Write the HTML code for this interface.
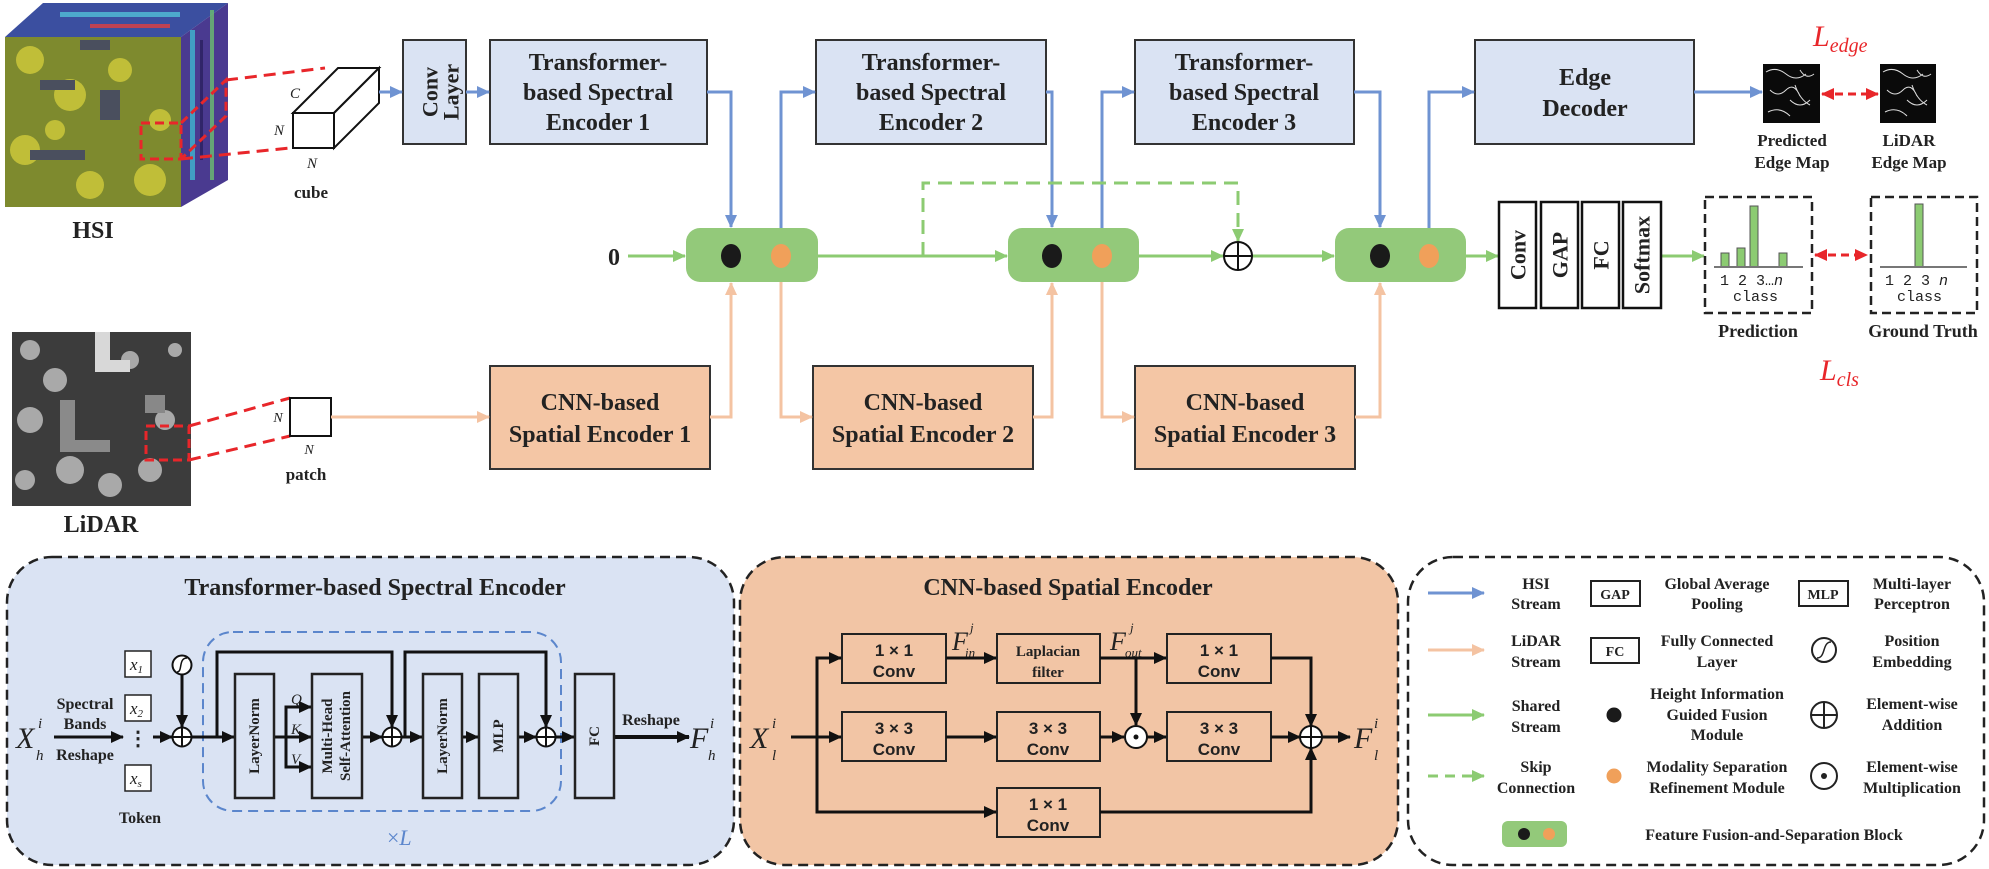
<!DOCTYPE html>
<html><head><meta charset="utf-8"><style>
html,body{margin:0;padding:0;background:#fff;}
svg{display:block;}
text{font-family:"Liberation Serif",serif;font-weight:bold;fill:#222;}
.i{font-style:italic;font-weight:normal;}
.s{font-family:"Liberation Sans",sans-serif;}
</style></head><body>
<svg width="1989" height="869" viewBox="0 0 1989 869" xmlns="http://www.w3.org/2000/svg">
<defs>
<marker id="mb" markerUnits="userSpaceOnUse" markerWidth="14" markerHeight="14" refX="12" refY="7" orient="auto"><path d="M0,1 L13,7 L0,13 z" fill="#6f93d2"/></marker>
<marker id="mp" markerUnits="userSpaceOnUse" markerWidth="14" markerHeight="14" refX="12" refY="7" orient="auto"><path d="M0,1 L13,7 L0,13 z" fill="#f4c3a2"/></marker>
<marker id="mg" markerUnits="userSpaceOnUse" markerWidth="14" markerHeight="14" refX="12" refY="7" orient="auto"><path d="M0,1 L13,7 L0,13 z" fill="#8ccb72"/></marker>
<marker id="mk" markerUnits="userSpaceOnUse" markerWidth="14" markerHeight="14" refX="12" refY="7" orient="auto"><path d="M0,1 L13,7 L0,13 z" fill="#111"/></marker>
<marker id="mr" markerUnits="userSpaceOnUse" markerWidth="14" markerHeight="14" refX="12" refY="7" orient="auto"><path d="M0,1 L13,7 L0,13 z" fill="#e8262a"/></marker>
<marker id="mrs" markerUnits="userSpaceOnUse" markerWidth="14" markerHeight="14" refX="12" refY="7" orient="auto-start-reverse"><path d="M0,1 L13,7 L0,13 z" fill="#e8262a"/></marker>
</defs>

<!-- HSI cube -->
<polygon points="5,37 43,3 228,3 181,37" fill="#3b4fa0"/>
<polygon points="181,37 228,3 228,180 181,207" fill="#4a3a90"/>
<g opacity="0.8">
<rect x="60" y="12" width="120" height="5" fill="#52c0d8"/><rect x="90" y="24" width="80" height="4" fill="#e04040"/>
<rect x="190" y="30" width="5" height="150" fill="#40b8d0"/><rect x="210" y="10" width="4" height="170" fill="#6cc070"/><rect x="200" y="40" width="3" height="120" fill="#2a2060"/>
</g>
<rect x="5" y="37" width="176" height="170" fill="#7e8a2e"/>
<g fill="#c8c43a" opacity="0.9">
<circle cx="30" cy="60" r="14"/><circle cx="70" cy="95" r="16"/><circle cx="25" cy="150" r="15"/><circle cx="120" cy="70" r="12"/><circle cx="150" cy="180" r="16"/><circle cx="90" cy="185" r="14"/><circle cx="160" cy="120" r="11"/><circle cx="55" cy="130" r="10"/>
</g>
<g fill="#4a4f5e"><rect x="40" y="80" width="35" height="10"/><rect x="30" y="150" width="55" height="10"/><rect x="100" y="90" width="20" height="30"/><rect x="80" y="40" width="30" height="10"/></g>
<rect x="141" y="123" width="40" height="36" fill="none" stroke="#e8262a" stroke-width="3" stroke-dasharray="9,5"/>
<polyline points="181,123 226,80 226,116 181,159" fill="none" stroke="#e8262a" stroke-width="3" stroke-dasharray="9,5"/>
<line x1="226" y1="80" x2="325" y2="68" stroke="#e8262a" stroke-width="3" stroke-dasharray="12,7"/>
<line x1="181" y1="159" x2="290" y2="148" stroke="#e8262a" stroke-width="3" stroke-dasharray="12,7"/>
<text x="93" y="238" font-size="24" text-anchor="middle">HSI</text>

<!-- small cube -->
<polygon points="293,113 338,68 379,68 334,113" fill="#fff" stroke="#111" stroke-width="2"/>
<polygon points="334,113 379,68 379,103 334,148" fill="#fff" stroke="#111" stroke-width="2"/>
<rect x="293" y="113" width="41" height="35" fill="#fff" stroke="#111" stroke-width="2"/>
<text class="i" x="295" y="98" font-size="15" text-anchor="middle">C</text>
<text class="i" x="279" y="135" font-size="15" text-anchor="middle">N</text>
<text class="i" x="312" y="168" font-size="15" text-anchor="middle">N</text>
<text x="311" y="198" font-size="17" text-anchor="middle">cube</text>

<!-- LiDAR image -->
<rect x="12" y="332" width="179" height="174" fill="#3c3c3c"/>
<g fill="#bdbdbd" opacity="0.85">
<circle cx="30" cy="350" r="10"/><circle cx="55" cy="380" r="12"/><circle cx="30" cy="420" r="13"/><circle cx="70" cy="470" r="14"/><circle cx="110" cy="485" r="12"/><circle cx="150" cy="470" r="12"/><circle cx="165" cy="420" r="10"/><circle cx="130" cy="360" r="9"/><circle cx="25" cy="480" r="10"/><circle cx="175" cy="350" r="7"/>
</g>
<polygon points="95,332 110,332 110,360 130,360 130,372 95,372" fill="#d8d8d8"/>
<polygon points="60,400 75,400 75,440 110,440 110,452 60,452" fill="#8a8a8a"/>
<rect x="145" y="395" width="20" height="18" fill="#888"/>
<rect x="146" y="426" width="43" height="34" fill="none" stroke="#e8262a" stroke-width="3" stroke-dasharray="9,5"/>
<line x1="189" y1="426" x2="290" y2="398" stroke="#e8262a" stroke-width="3" stroke-dasharray="12,7"/>
<line x1="189" y1="460" x2="290" y2="436" stroke="#e8262a" stroke-width="3" stroke-dasharray="12,7"/>
<text x="101" y="532" font-size="24" text-anchor="middle">LiDAR</text>
<rect x="290" y="398" width="41" height="38" fill="#fff" stroke="#111" stroke-width="2"/>
<text class="i" x="278" y="422" font-size="14" text-anchor="middle">N</text>
<text class="i" x="309" y="454" font-size="14" text-anchor="middle">N</text>
<text x="306" y="480" font-size="17" text-anchor="middle">patch</text>

<!-- top boxes -->
<g stroke="#333" stroke-width="2" fill="#dae3f3">
<rect x="403" y="40" width="63" height="104"/>
<rect x="490" y="40" width="217" height="104"/>
<rect x="816" y="40" width="230" height="104"/>
<rect x="1135" y="40" width="219" height="104"/>
<rect x="1475" y="40" width="219" height="104"/>
</g>
<g font-size="22" text-anchor="middle">
<text transform="translate(430,92) rotate(-90)" dominant-baseline="central" text-anchor="middle">Conv</text>
<text transform="translate(451,92) rotate(-90)" dominant-baseline="central" text-anchor="middle">Layer</text>
</g>
<g font-size="24" text-anchor="middle">
<text x="598" y="70">Transformer-</text><text x="598" y="100">based Spectral</text><text x="598" y="130">Encoder 1</text>
<text x="931" y="70">Transformer-</text><text x="931" y="100">based Spectral</text><text x="931" y="130">Encoder 2</text>
<text x="1244" y="70">Transformer-</text><text x="1244" y="100">based Spectral</text><text x="1244" y="130">Encoder 3</text>
<text x="1585" y="85">Edge</text><text x="1585" y="116">Decoder</text>
</g>

<!-- CNN boxes top -->
<g stroke="#333" stroke-width="2" fill="#f4c6a5">
<rect x="490" y="366" width="220" height="103"/>
<rect x="813" y="366" width="220" height="103"/>
<rect x="1135" y="366" width="220" height="103"/>
</g>
<g font-size="24" text-anchor="middle">
<text x="600" y="410">CNN-based</text><text x="600" y="442">Spatial Encoder 1</text>
<text x="923" y="410">CNN-based</text><text x="923" y="442">Spatial Encoder 2</text>
<text x="1245" y="410">CNN-based</text><text x="1245" y="442">Spatial Encoder 3</text>
</g>

<!-- blue connections -->
<g stroke="#6f93d2" stroke-width="3" fill="none">
<line x1="379" y1="92" x2="402" y2="92" marker-end="url(#mb)"/>
<line x1="466" y1="92" x2="489" y2="92" marker-end="url(#mb)"/>
<polyline points="707,92 731,92 731,227" marker-end="url(#mb)"/>
<polyline points="781,228 781,92 815,92" marker-end="url(#mb)"/>
<polyline points="1046,92 1052,92 1052,227" marker-end="url(#mb)"/>
<polyline points="1102,228 1102,92 1134,92" marker-end="url(#mb)"/>
<polyline points="1354,92 1380,92 1380,227" marker-end="url(#mb)"/>
<polyline points="1429,228 1429,92 1474,92" marker-end="url(#mb)"/>
<line x1="1694" y1="92" x2="1762" y2="92" marker-end="url(#mb)"/>
</g>
<!-- pink connections -->
<g stroke="#f4c3a2" stroke-width="3" fill="none">
<line x1="331" y1="417" x2="489" y2="417" marker-end="url(#mp)"/>
<polyline points="710,417 731,417 731,283" marker-end="url(#mp)"/>
<polyline points="781,282 781,417 812,417" marker-end="url(#mp)"/>
<polyline points="1033,417 1052,417 1052,283" marker-end="url(#mp)"/>
<polyline points="1102,282 1102,417 1134,417" marker-end="url(#mp)"/>
<polyline points="1355,417 1380,417 1380,283" marker-end="url(#mp)"/>
</g>
<!-- green -->
<g stroke="#8ccb72" stroke-width="3" fill="none">
<line x1="628" y1="256" x2="685" y2="256" marker-end="url(#mg)"/>
<line x1="818" y1="256" x2="1007" y2="256" marker-end="url(#mg)"/>
<line x1="1139" y1="256" x2="1223" y2="256" marker-end="url(#mg)"/>
<line x1="1252" y1="256" x2="1334" y2="256" marker-end="url(#mg)"/>
<line x1="1466" y1="256" x2="1498" y2="256" marker-end="url(#mg)"/>
<line x1="1661" y1="256" x2="1704" y2="256" marker-end="url(#mg)"/>
<polyline points="923,256 923,183 1238,183 1238,241" stroke-dasharray="14,8" marker-end="url(#mg)"/>
</g>
<text x="614" y="265" font-size="24" text-anchor="middle">0</text>
<!-- FFSB blocks -->
<g fill="#93c97a">
<rect x="686" y="228" width="132" height="54" rx="14"/>
<rect x="1008" y="228" width="131" height="54" rx="14"/>
<rect x="1335" y="228" width="131" height="54" rx="14"/>
</g>
<g>
<ellipse cx="731" cy="256" rx="10" ry="12" fill="#1a1a1a"/><ellipse cx="781" cy="256" rx="10" ry="12" fill="#f0a05a"/>
<ellipse cx="1052" cy="256" rx="10" ry="12" fill="#1a1a1a"/><ellipse cx="1102" cy="256" rx="10" ry="12" fill="#f0a05a"/>
<ellipse cx="1380" cy="256" rx="10" ry="12" fill="#1a1a1a"/><ellipse cx="1429" cy="256" rx="10" ry="12" fill="#f0a05a"/>
</g>
<g stroke="#111" stroke-width="2" fill="#fff">
<circle cx="1238" cy="256" r="14"/>
</g>
<path d="M1224,256 H1252 M1238,242 V270" stroke="#111" stroke-width="2"/>

<!-- classifier -->
<g stroke="#111" stroke-width="2.5" fill="#fff">
<rect x="1499" y="202" width="37" height="106"/><rect x="1541" y="202" width="37" height="106"/>
<rect x="1582" y="202" width="37" height="106"/><rect x="1623" y="202" width="38" height="106"/>
</g>
<g font-size="22">
<text transform="translate(1518,255) rotate(-90)" text-anchor="middle" dominant-baseline="central">Conv</text>
<text transform="translate(1560,255) rotate(-90)" text-anchor="middle" dominant-baseline="central">GAP</text>
<text transform="translate(1601,255) rotate(-90)" text-anchor="middle" dominant-baseline="central">FC</text>
<text transform="translate(1642,255) rotate(-90)" text-anchor="middle" dominant-baseline="central">Softmax</text>
</g>
<g fill="none" stroke="#222" stroke-width="2.5" stroke-dasharray="9,5">
<rect x="1705" y="197" width="107" height="116"/>
<rect x="1871" y="197" width="106" height="116"/>
</g>
<g fill="#8ccb72" stroke="#555" stroke-width="1">
<rect x="1721" y="253" width="8" height="14"/><rect x="1737" y="248" width="8" height="19"/><rect x="1750" y="206" width="8" height="61"/><rect x="1779" y="253" width="8" height="14"/>
<rect x="1915" y="204" width="8" height="63"/>
</g>
<line x1="1714" y1="267" x2="1803" y2="267" stroke="#777" stroke-width="2"/>
<line x1="1880" y1="267" x2="1967" y2="267" stroke="#777" stroke-width="2"/>
<g font-family="Liberation Mono" font-size="15" style="font-family:'Liberation Mono',monospace;font-weight:normal">
<text x="1720" y="285" style="font-family:'Liberation Mono',monospace;font-weight:normal">1 2 3…<tspan font-style="italic">n</tspan></text>
<text x="1733" y="301" style="font-family:'Liberation Mono',monospace;font-weight:normal">class</text>
<text x="1885" y="285" style="font-family:'Liberation Mono',monospace;font-weight:normal">1 2 3  <tspan font-style="italic">n</tspan></text>
<text x="1897" y="301" style="font-family:'Liberation Mono',monospace;font-weight:normal">class</text>
</g>
<text x="1758" y="337" font-size="18" text-anchor="middle">Prediction</text>
<text x="1923" y="337" font-size="18" text-anchor="middle">Ground Truth</text>
<line x1="1815" y1="255" x2="1867" y2="255" stroke="#e8262a" stroke-width="3" stroke-dasharray="8,5" marker-start="url(#mrs)" marker-end="url(#mr)"/>
<text class="i" x="1820" y="380" font-size="30" style="fill:#e8262a">L<tspan font-size="20" dy="6">cls</tspan></text>

<!-- edge maps -->
<rect x="1763" y="64" width="57" height="59" fill="#0a0a0a"/>
<rect x="1880" y="64" width="56" height="59" fill="#0a0a0a"/>
<g stroke="#ddd" stroke-width="1" fill="none">
<path d="M1766,72 q10,-6 20,2 t20,0 M1770,90 q8,8 16,0 t14,6 M1790,100 q10,10 20,0 M1768,112 q12,-6 22,4 M1800,70 q6,10 14,4 M1795,85 q5,15 15,20"/>
<path d="M1883,72 q10,-6 20,2 t20,0 M1887,90 q8,8 16,0 t14,6 M1907,100 q10,10 20,0 M1885,112 q12,-6 22,4 M1917,70 q6,10 14,4 M1912,85 q5,15 15,20"/>
</g>
<line x1="1822" y1="94" x2="1878" y2="94" stroke="#e8262a" stroke-width="3" stroke-dasharray="8,5" marker-start="url(#mrs)" marker-end="url(#mr)"/>
<g font-size="17" text-anchor="middle">
<text x="1792" y="146">Predicted</text><text x="1792" y="168">Edge Map</text>
<text x="1909" y="146">LiDAR</text><text x="1909" y="168">Edge Map</text>
</g>
<text class="i" x="1813" y="46" font-size="30" style="fill:#e8262a">L<tspan font-size="20" dy="6">edge</tspan></text>

<!-- ===== Transformer panel ===== -->
<rect x="7" y="557" width="727" height="308" rx="45" fill="#dae3f3" stroke="#222" stroke-width="2.5" stroke-dasharray="10,6"/>
<text x="375" y="595" font-size="24" text-anchor="middle">Transformer-based Spectral Encoder</text>
<rect x="203" y="632" width="358" height="179" rx="30" fill="none" stroke="#5b86cc" stroke-width="2" stroke-dasharray="10,6"/>
<text x="387" y="845" font-size="22" style="fill:#5b86cc;font-weight:normal">×<tspan font-style="italic">L</tspan></text>
<text class="i" x="16" y="748" font-size="30">X</text><text class="i" x="38" y="728" font-size="15">i</text><text class="i" x="36" y="760" font-size="15">h</text>
<g font-size="16" text-anchor="middle"><text x="85" y="709">Spectral</text><text x="85" y="729">Bands</text><text x="85" y="760">Reshape</text><text x="140" y="823">Token</text></g>
<g stroke="#222" stroke-width="1.5" fill="#fff">
<rect x="125" y="651" width="26" height="26"/><rect x="125" y="695" width="26" height="26"/><rect x="125" y="765" width="26" height="26"/>
</g>
<g class="i" font-size="17"><text class="i" x="130" y="670">x<tspan font-size="11" dy="3">1</tspan></text><text class="i" x="130" y="714">x<tspan font-size="11" dy="3">2</tspan></text><text class="i" x="130" y="784">x<tspan font-size="11" dy="3">s</tspan></text></g>
<text x="138" y="745" font-size="20" text-anchor="middle">⋮</text>
<g stroke="#111" stroke-width="3" fill="none">
<line x1="54" y1="737" x2="123" y2="737" marker-end="url(#mk)"/>
<line x1="153" y1="737" x2="172" y2="737" marker-end="url(#mk)"/>
<line x1="182" y1="675" x2="182" y2="727" marker-end="url(#mk)"/>
<line x1="192" y1="737" x2="234" y2="737" marker-end="url(#mk)"/>
<polyline points="217,737 217,652 392,652 392,727" marker-end="url(#mk)"/>
<line x1="274" y1="737" x2="311" y2="737" marker-end="url(#mk)"/>
<polyline points="286,737 286,707 311,707" marker-end="url(#mk)"/>
<polyline points="286,737 286,767 311,767" marker-end="url(#mk)"/>
<line x1="362" y1="737" x2="382" y2="737" marker-end="url(#mk)"/>
<line x1="402" y1="737" x2="422" y2="737" marker-end="url(#mk)"/>
<line x1="462" y1="737" x2="478" y2="737" marker-end="url(#mk)"/>
<line x1="518" y1="737" x2="536" y2="737" marker-end="url(#mk)"/>
<polyline points="405,737 405,652 546,652 546,727" marker-end="url(#mk)"/>
<line x1="556" y1="737" x2="574" y2="737" marker-end="url(#mk)"/>
<line x1="614" y1="737" x2="689" y2="737" stroke-width="4" marker-end="url(#mk)"/>
</g>
<g stroke="#111" stroke-width="2" fill="#fff">
<circle cx="182" cy="737" r="9.5"/><circle cx="392" cy="737" r="9.5"/><circle cx="546" cy="737" r="9.5"/>
<circle cx="182" cy="665" r="9.5"/>
</g>
<path d="M172.5,737 H191.5 M182,727.5 V746.5 M382.5,737 H401.5 M392,727.5 V746.5 M536.5,737 H555.5 M546,727.5 V746.5" stroke="#111" stroke-width="2"/>
<path d="M177,672 C183,672 178,658 187,658" stroke="#111" stroke-width="1.5" fill="none"/>
<g stroke="#222" stroke-width="2.5" fill="#dae3f3">
<rect x="235" y="674" width="39" height="124"/><rect x="312" y="674" width="50" height="124"/>
<rect x="423" y="674" width="39" height="124"/><rect x="479" y="674" width="39" height="124"/>
<rect x="575" y="674" width="39" height="124"/>
</g>
<g font-size="15">
<text transform="translate(255,736) rotate(-90)" text-anchor="middle" dominant-baseline="central">LayerNorm</text>
<text transform="translate(328,736) rotate(-90)" text-anchor="middle" dominant-baseline="central">Multi-Head</text>
<text transform="translate(346,736) rotate(-90)" text-anchor="middle" dominant-baseline="central">Self-Attention</text>
<text transform="translate(443,736) rotate(-90)" text-anchor="middle" dominant-baseline="central">LayerNorm</text>
<text transform="translate(499,736) rotate(-90)" text-anchor="middle" dominant-baseline="central">MLP</text>
<text transform="translate(595,736) rotate(-90)" text-anchor="middle" dominant-baseline="central">FC</text>
</g>
<g class="i" font-size="15"><text class="i" x="291" y="704">Q</text><text class="i" x="291" y="734">K</text><text class="i" x="291" y="764">V</text></g>
<text x="651" y="725" font-size="16" text-anchor="middle">Reshape</text>
<text class="i" x="690" y="748" font-size="30">F</text><text class="i" x="710" y="728" font-size="15">i</text><text class="i" x="708" y="760" font-size="15">h</text>

<!-- ===== CNN panel ===== -->
<rect x="740" y="557" width="658" height="308" rx="45" fill="#f2c5a5" stroke="#222" stroke-width="2.5" stroke-dasharray="10,6"/>
<text x="1068" y="595" font-size="24" text-anchor="middle">CNN-based Spatial Encoder</text>
<g stroke="#222" stroke-width="2" fill="#f2c5a5">
<rect x="842" y="634" width="104" height="49"/><rect x="997" y="634" width="103" height="49"/><rect x="1167" y="634" width="104" height="49"/>
<rect x="842" y="712" width="104" height="49"/><rect x="997" y="712" width="103" height="49"/><rect x="1167" y="712" width="104" height="49"/>
<rect x="997" y="788" width="103" height="49"/>
</g>
<g class="s" font-size="17" text-anchor="middle" style="font-family:'Liberation Sans',sans-serif">
<text x="894" y="656" style="font-family:'Liberation Sans',sans-serif">1 × 1</text><text x="894" y="677" style="font-family:'Liberation Sans',sans-serif">Conv</text>
<text x="1219" y="656" style="font-family:'Liberation Sans',sans-serif">1 × 1</text><text x="1219" y="677" style="font-family:'Liberation Sans',sans-serif">Conv</text>
<text x="894" y="734" style="font-family:'Liberation Sans',sans-serif">3 × 3</text><text x="894" y="755" style="font-family:'Liberation Sans',sans-serif">Conv</text>
<text x="1048" y="734" style="font-family:'Liberation Sans',sans-serif">3 × 3</text><text x="1048" y="755" style="font-family:'Liberation Sans',sans-serif">Conv</text>
<text x="1219" y="734" style="font-family:'Liberation Sans',sans-serif">3 × 3</text><text x="1219" y="755" style="font-family:'Liberation Sans',sans-serif">Conv</text>
<text x="1048" y="810" style="font-family:'Liberation Sans',sans-serif">1 × 1</text><text x="1048" y="831" style="font-family:'Liberation Sans',sans-serif">Conv</text>
</g>
<g font-size="15" text-anchor="middle"><text x="1048" y="656">Laplacian</text><text x="1048" y="677">filter</text></g>
<text class="i" x="750" y="748" font-size="30">X</text><text class="i" x="772" y="728" font-size="15">i</text><text class="i" x="772" y="760" font-size="15">l</text>
<text class="i" x="952" y="650" font-size="26">F</text><text class="i" x="970" y="632" font-size="13">j</text><text class="i" x="965" y="657" font-size="13">in</text>
<text class="i" x="1110" y="650" font-size="26">F</text><text class="i" x="1130" y="632" font-size="13">j</text><text class="i" x="1125" y="657" font-size="13">out</text>
<g stroke="#111" stroke-width="3" fill="none">
<line x1="791" y1="737" x2="841" y2="737" marker-end="url(#mk)"/>
<polyline points="817,812 817,658 841,658" marker-end="url(#mk)"/>
<polyline points="817,737 817,812 996,812" marker-end="url(#mk)"/>
<line x1="946" y1="658" x2="996" y2="658" marker-end="url(#mk)"/>
<line x1="946" y1="737" x2="996" y2="737" marker-end="url(#mk)"/>
<line x1="1100" y1="658" x2="1166" y2="658" marker-end="url(#mk)"/>
<line x1="1136" y1="658" x2="1136" y2="725" marker-end="url(#mk)"/>
<line x1="1100" y1="737" x2="1124" y2="737" marker-end="url(#mk)"/>
<line x1="1147" y1="737" x2="1166" y2="737" marker-end="url(#mk)"/>
<polyline points="1271,658 1311,658 1311,726" marker-end="url(#mk)"/>
<line x1="1271" y1="737" x2="1300" y2="737" marker-end="url(#mk)"/>
<polyline points="1100,812 1311,812 1311,748" marker-end="url(#mk)"/>
<line x1="1322" y1="737" x2="1350" y2="737" marker-end="url(#mk)"/>
</g>
<g stroke="#111" stroke-width="2" fill="#fff"><circle cx="1136" cy="737" r="11"/><circle cx="1311" cy="737" r="11"/></g>
<circle cx="1136" cy="737" r="2.5" fill="#111"/>
<path d="M1300,737 H1322 M1311,726 V748" stroke="#111" stroke-width="2"/>
<text class="i" x="1354" y="748" font-size="30">F</text><text class="i" x="1374" y="728" font-size="15">i</text><text class="i" x="1374" y="760" font-size="15">l</text>

<!-- ===== Legend ===== -->
<rect x="1408" y="557" width="576" height="308" rx="45" fill="#fff" stroke="#222" stroke-width="2.5" stroke-dasharray="10,6"/>
<g stroke-width="3" fill="none">
<line x1="1428" y1="593" x2="1484" y2="593" stroke="#6f93d2" marker-end="url(#mb)"/>
<line x1="1428" y1="650" x2="1484" y2="650" stroke="#f4c3a2" marker-end="url(#mp)"/>
<line x1="1428" y1="715" x2="1484" y2="715" stroke="#8ccb72" marker-end="url(#mg)"/>
<line x1="1428" y1="776" x2="1484" y2="776" stroke="#8ccb72" stroke-dasharray="10,7" marker-end="url(#mg)"/>
</g>
<g font-size="16" text-anchor="middle">
<text x="1536" y="589">HSI</text><text x="1536" y="609">Stream</text>
<text x="1536" y="646">LiDAR</text><text x="1536" y="667">Stream</text>
<text x="1536" y="711">Shared</text><text x="1536" y="732">Stream</text>
<text x="1536" y="772">Skip</text><text x="1536" y="793">Connection</text>
<text x="1717" y="589">Global Average</text><text x="1717" y="609">Pooling</text>
<text x="1717" y="646">Fully Connected</text><text x="1717" y="667">Layer</text>
<text x="1717" y="699">Height Information</text><text x="1717" y="720">Guided Fusion</text><text x="1717" y="740">Module</text>
<text x="1717" y="772">Modality Separation</text><text x="1717" y="793">Refinement Module</text>
<text x="1912" y="589">Multi-layer</text><text x="1912" y="609">Perceptron</text>
<text x="1912" y="646">Position</text><text x="1912" y="667">Embedding</text>
<text x="1912" y="709">Element-wise</text><text x="1912" y="730">Addition</text>
<text x="1912" y="772">Element-wise</text><text x="1912" y="793">Multiplication</text>
<text x="1774" y="840">Feature Fusion-and-Separation Block</text>
</g>
<g stroke="#222" stroke-width="2" fill="#fff">
<rect x="1591" y="581" width="49" height="25"/><rect x="1591" y="638" width="48" height="25"/><rect x="1799" y="581" width="49" height="25"/>
<circle cx="1824" cy="650" r="12"/><circle cx="1824" cy="715" r="13"/><circle cx="1824" cy="776" r="13"/>
</g>
<g font-size="14" text-anchor="middle"><text x="1615" y="599">GAP</text><text x="1615" y="656">FC</text><text x="1823" y="599">MLP</text></g>
<path d="M1817,658 C1826,658 1822,642 1831,642" stroke="#222" stroke-width="1.5" fill="none"/>
<path d="M1811,715 H1837 M1824,702 V728" stroke="#222" stroke-width="2"/>
<circle cx="1824" cy="776" r="3" fill="#222"/>
<circle cx="1614" cy="715" r="7.5" fill="#1a1a1a"/>
<circle cx="1614" cy="776" r="7.5" fill="#f0a05a"/>
<rect x="1502" y="821" width="65" height="26" rx="6" fill="#93c97a"/>
<circle cx="1524" cy="834" r="6" fill="#1a1a1a"/><circle cx="1549" cy="834" r="6" fill="#f0a05a"/>
</svg>
</body></html>
